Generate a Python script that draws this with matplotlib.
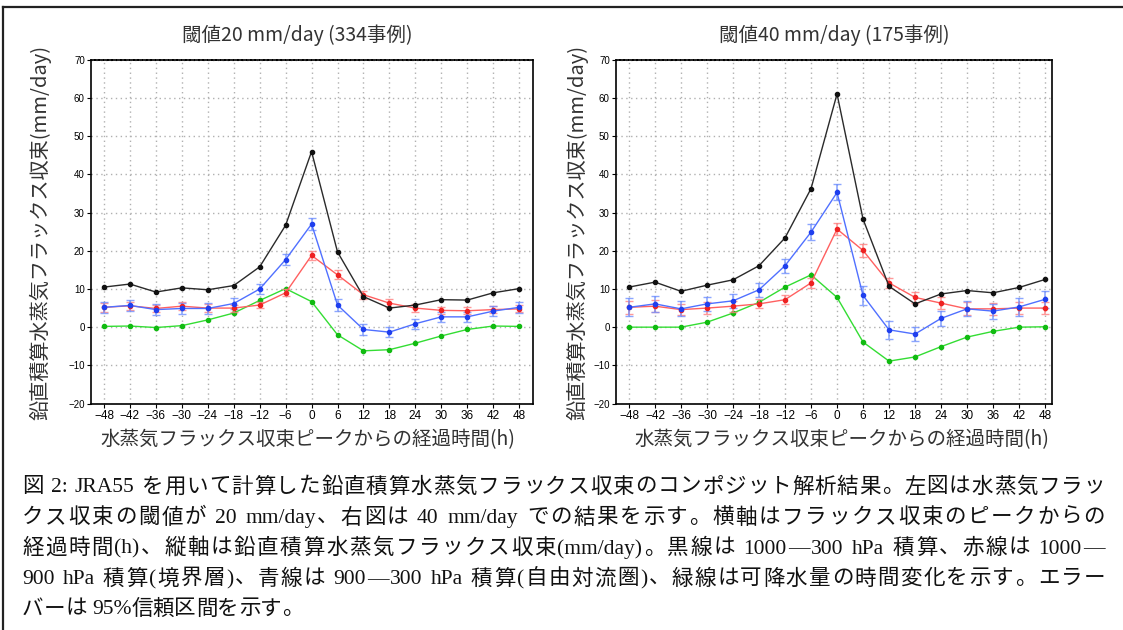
import re
import numpy as np
import matplotlib
matplotlib.use("Agg")
import matplotlib.pyplot as plt
from matplotlib.lines import Line2D

plt.rcParams['font.family'] = ['Noto Sans CJK JP', 'DejaVu Sans']

hours = [-48, -42, -36, -30, -24, -18, -12, -6, 0, 6, 12, 18, 24, 30, 36, 42, 48]

# 閾値20 mm/day
black20 = [10.5, 11.3, 9.2, 10.3, 9.8, 10.9, 15.8, 26.7, 46.0, 19.7, 8.0, 5.0, 5.8, 7.2, 7.1, 9.0, 10.1]
red20 = [5.2, 5.6, 4.9, 5.5, 5.0, 5.0, 5.8, 9.0, 18.8, 13.7, 8.5, 6.3, 5.0, 4.4, 4.3, 4.6, 4.8]
blue20 = [5.2, 5.7, 4.6, 4.9, 4.9, 6.2, 10.0, 17.7, 27.0, 5.8, -0.6, -1.3, 0.9, 2.7, 2.7, 4.2, 5.2]
green20 = [0.2, 0.3, -0.1, 0.4, 1.9, 3.7, 7.0, 10.1, 6.7, -2.0, -6.2, -5.9, -4.2, -2.3, -0.6, 0.3, 0.2]
red20_err = [1.2, 1.1, 1.0, 1.0, 1.0, 0.9, 0.9, 0.9, 1.1, 1.2, 1.1, 1.1, 1.0, 0.9, 0.9, 0.9, 0.9]
blue20_err = [1.5, 1.5, 1.5, 1.4, 1.4, 1.4, 1.4, 1.4, 1.5, 1.6, 1.5, 1.4, 1.3, 1.4, 1.4, 1.4, 1.5]

# 閾値40 mm/day
black40 = [10.5, 11.8, 9.4, 11.0, 12.4, 16.1, 23.4, 36.3, 61.1, 28.3, 10.7, 6.1, 8.7, 9.6, 9.0, 10.4, 12.5]
red40 = [5.2, 5.5, 4.6, 5.0, 5.5, 6.1, 7.2, 11.6, 25.7, 20.1, 11.6, 7.8, 6.3, 4.8, 4.8, 5.0, 5.0]
blue40 = [5.2, 6.1, 4.8, 6.1, 6.9, 9.8, 16.1, 24.9, 35.3, 8.3, -0.7, -1.8, 2.3, 4.8, 4.2, 5.3, 7.3]
green40 = [0.0, 0.0, 0.0, 1.3, 3.7, 6.5, 10.5, 13.7, 7.8, -3.9, -8.9, -7.8, -5.1, -2.6, -1.1, 0.0, 0.1]
red40_err = [1.7, 1.6, 1.5, 1.5, 1.4, 1.2, 1.2, 1.3, 1.6, 1.6, 1.4, 1.5, 1.5, 1.7, 1.5, 1.6, 1.5]
blue40_err = [2.4, 2.0, 2.0, 1.8, 1.9, 1.8, 1.8, 2.0, 2.1, 2.4, 2.4, 1.8, 2.0, 2.0, 2.0, 2.3, 2.2]

titles = ['閾値20 mm/day (334事例)', '閾値40 mm/day (175事例)']
ylab = '鉛直積算水蒸気フラックス収束(mm/day)'
xlab = '水蒸気フラックス収束ピークからの経過時間(h)'

caption = [
    '図 2: JRA55 を用いて計算した鉛直積算水蒸気フラックス収束のコンポジット解析結果。左図は水蒸気フラッ',
    'クス収束の閾値が 20 mm/day、右図は 40 mm/day での結果を示す。横軸はフラックス収束のピークからの',
    '経過時間(h)、縦軸は鉛直積算水蒸気フラックス収束(mm/day)。黒線は 1000—300 hPa 積算、赤線は 1000—',
    '900 hPa 積算(境界層)、青線は 900—300 hPa 積算(自由対流圏)、緑線は可降水量の時間変化を示す。エラー',
    'バーは 95%信頼区間を示す。',
]

W, H = 1123, 630
fig = plt.figure(figsize=(W / 100, H / 100), dpi=100)

def px(x0, y0, x1, y1):
    return [x0 / W, 1 - y1 / H, (x1 - x0) / W, (y1 - y0) / H]

ax1 = fig.add_axes(px(91, 60, 533, 403.5))
ax2 = fig.add_axes(px(616, 60, 1052, 403.5))

def panel(ax, blk, red, rerr, blu, berr, grn, xlim):
    ax.grid(True, color='#b0b0b0', linestyle=(0, (1, 2.5)), linewidth=1)
    ax.set_axisbelow(True)
    ax.plot(hours, grn, color='#33dd33', lw=1, marker='o', ms=3, mfc='#11bb11', mec='#11bb11', zorder=3)
    ax.errorbar(hours, red, yerr=rerr, fmt='none', ecolor='#ff8080', elinewidth=1.2, capsize=3, alpha=0.8, zorder=3)
    ax.plot(hours, red, color='#ff6060', lw=1, marker='o', ms=3, mfc='#ee2222', mec='#ee2222', zorder=4)
    ax.errorbar(hours, blu, yerr=berr, fmt='none', ecolor='#7090ff', elinewidth=1.2, capsize=3, alpha=0.8, zorder=3)
    ax.plot(hours, blu, color='#5070ff', lw=1, marker='o', ms=3, mfc='#1f3fee', mec='#1f3fee', zorder=4)
    ax.plot(hours, blk, color='#2a2a2a', lw=1, marker='o', ms=3, mfc='#111111', mec='#111111', zorder=5)
    ax.set_xlim(*xlim)
    ax.set_ylim(-20, 70)
    ax.set_xticks(hours)
    ax.set_yticks(range(-20, 71, 10))
    ax.tick_params(axis='x', labelsize=8.5, length=3, width=0.8, pad=2)
    ax.tick_params(axis='y', labelsize=7, length=3, width=0.8, pad=1.5)
    for lab in ax.get_xticklabels() + ax.get_yticklabels():
        lab.set_family(['Liberation Sans', 'DejaVu Sans'])
    for s in ax.spines.values():
        s.set_linewidth(1.2)
    ax.spines['top'].set_linestyle((0, (2, 0.6)))

panel(ax1, black20, red20, red20_err, blue20, blue20_err, green20, (-51, 51.2))
panel(ax2, black40, red40, red40_err, blue40, blue40_err, green40, (-51, 49.6))

fig.text(297 / W, 1 - 35 / H, titles[0], ha='center', va='center', fontsize=14, color='#333333')
fig.text(834 / W, 1 - 35 / H, titles[1], ha='center', va='center', fontsize=14, color='#333333')
fig.text(40 / W, 1 - 232 / H, ylab, rotation=90, ha='center', va='center', fontsize=14.5, color='#333333')
fig.text(577 / W, 1 - 232 / H, ylab, rotation=90, ha='center', va='center', fontsize=14.5, color='#333333')
fig.text(308 / W, 1 - 440 / H, xlab, ha='center', va='center', fontsize=14, color='#333333')
fig.text(842 / W, 1 - 440 / H, xlab, ha='center', va='center', fontsize=14, color='#333333')

# caption, justified between x=22 and x=1105 (last line left aligned)
renderer = fig.canvas.get_renderer()
cap_fs = 15.5
cap_family = ['Liberation Serif', 'Noto Sans CJK JP']
space_w = 0.25 * cap_fs * 100 / 72
x_left, x_right = 22, 1105
for i, line in enumerate(caption):
    y = 1 - (488 + 30.5 * i) / H
    tokens = re.findall(r'[!-~]+| +|.', line)
    items = []
    for tok in tokens:
        if tok.strip() == '':
            items.append((None, space_w * len(tok)))
            continue
        t = fig.text(0, y, tok, ha='left', va='center', fontsize=cap_fs, family=cap_family, color='#111111')
        items.append((t, t.get_window_extent(renderer).width))
    total = sum(w for _, w in items)
    gap = 0.0
    if i < len(caption) - 1 and len(items) > 1:
        gap = (x_right - x_left - total) / (len(items) - 1)
    x = x_left
    for t, w in items:
        if t is not None:
            t.set_x(x / W)
        x += w + gap

# frame around the figure (top and left only visible)
fig.add_artist(Line2D([3 / W, 3 / W], [0, 1 - 7 / H], transform=fig.transFigure, color='#222222', lw=1.6))
fig.add_artist(Line2D([3 / W, 1], [1 - 7 / H, 1 - 7 / H], transform=fig.transFigure, color='#222222', lw=1.6))

fig.savefig('out.png', dpi=100)
